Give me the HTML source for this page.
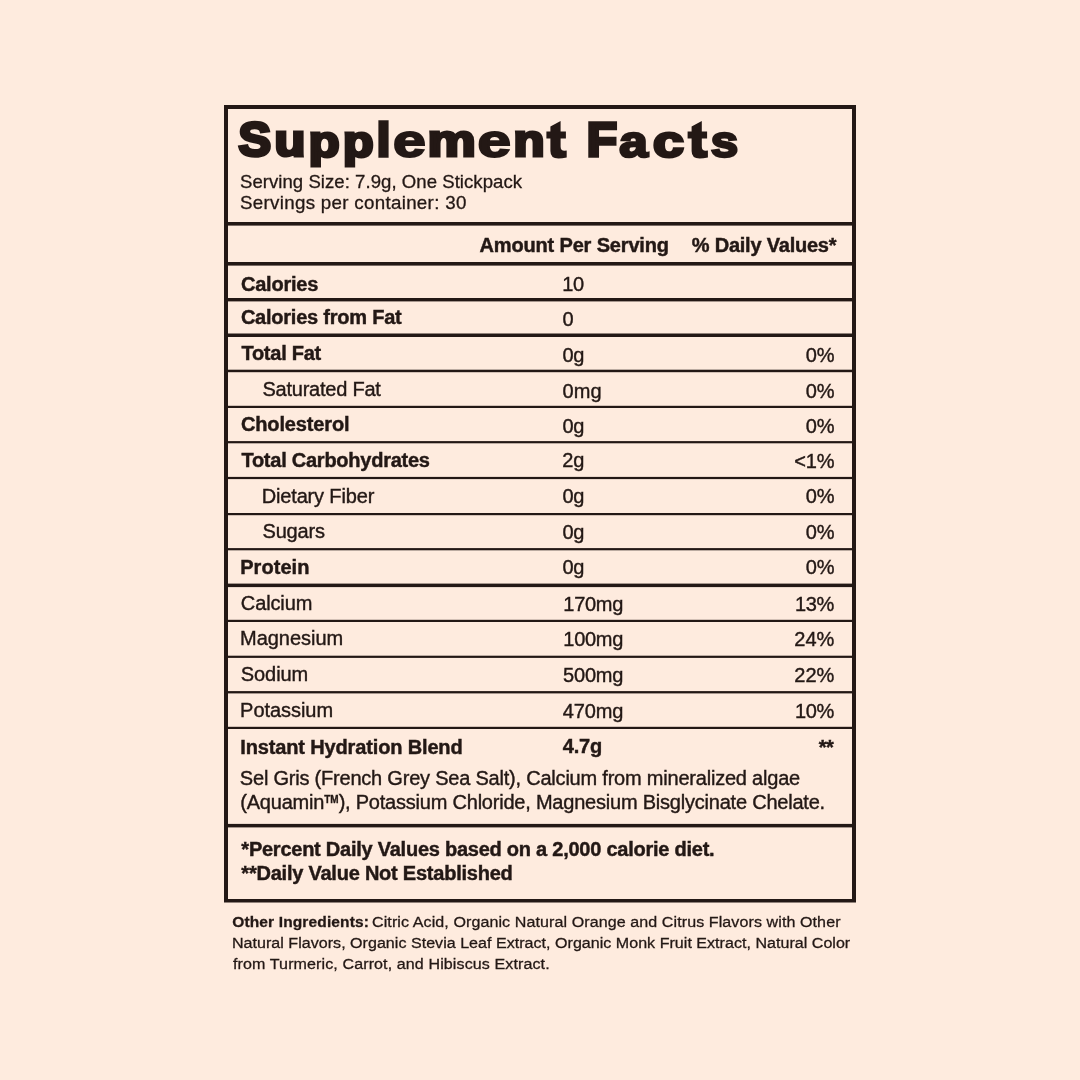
<!DOCTYPE html>
<html>
<head>
<meta charset="utf-8">
<title>Supplement Facts</title>
<style>
  html, body { margin: 0; padding: 0; }
  body {
    width: 1080px; height: 1080px; overflow: hidden;
    background: #feebde;
    font-family: "Liberation Sans", sans-serif;
    color: #231815;
    position: relative;
  }
  #wrap { position: absolute; left: 0; top: 0; width: 1080px; height: 1080px; will-change: transform; }
  .t { position: absolute; white-space: nowrap; line-height: 1; font-size: 20px; color: #231815; font-family: "Liberation Sans", sans-serif; }
  .b { font-weight: bold; }
  .tm { font-size: 10px; font-weight: bold; position: relative; top: -6.4px; letter-spacing: 0; -webkit-text-stroke: 0.3px #231815; }
</style>
</head>
<body>
<div id="wrap">
<svg width="1080" height="1080" style="position:absolute;left:0;top:0" fill="#231815">
<path fill-rule="evenodd" d="M224 104.9H856V902.6H224Z M228 108.9V899H852V108.9Z"/>
<rect x="228" y="222" width="624" height="3.6"/>
<rect x="228" y="262" width="624" height="3.6"/>
<rect x="228" y="298" width="624" height="3.4"/>
<rect x="228" y="333.5" width="624" height="3.5"/>
<rect x="228" y="369.7" width="624" height="2.5"/>
<rect x="228" y="405.8" width="624" height="2.2"/>
<rect x="228" y="441.1" width="624" height="2.2"/>
<rect x="228" y="476.9" width="624" height="2.2"/>
<rect x="228" y="513" width="624" height="2.2"/>
<rect x="228" y="548.1" width="624" height="2.2"/>
<rect x="228" y="583.6" width="624" height="3.5"/>
<rect x="228" y="619.8" width="624" height="2.2"/>
<rect x="228" y="655.7" width="624" height="2.2"/>
<rect x="228" y="691.1" width="624" height="2.3"/>
<rect x="228" y="726.8" width="624" height="2.2"/>
<rect x="228" y="823.9" width="624" height="3.5"/>
</svg>
<svg width="520" height="64" style="position:absolute;left:230px;top:110px;overflow:visible" font-family="Liberation Sans, sans-serif" font-weight="bold" font-size="48.0" fill="#231815" stroke="#231815" stroke-linejoin="miter">
<text stroke-width="3.5" transform="matrix(1.0168 0 0 1.0053 8.56 46.14)">S</text>
<text stroke-width="3.5" transform="matrix(1.0505 0 0 0.9060 44.59 46.36)">u</text>
<text stroke-width="3.5" transform="matrix(1.0486 0 0 0.9274 78.69 46.70)">p</text>
<text stroke-width="3.5" transform="matrix(1.0414 0 0 0.9274 112.90 46.70)">p</text>
<text stroke-width="3.5" transform="matrix(1.0146 0 0 0.9542 146.78 46.13)">l</text>
<text stroke-width="2.0" transform="matrix(1.2280 0 0 0.9628 162.97 46.96)">e</text>
<text stroke-width="3.2" transform="matrix(1.1321 0 0 0.9172 197.50 46.42)">m</text>
<text stroke-width="2.0" transform="matrix(1.2520 0 0 0.9628 247.45 46.96)">e</text>
<text stroke-width="3.5" transform="matrix(1.0579 0 0 0.9094 283.38 46.21)">n</text>
<path stroke="none" transform="translate(-230.00 -110)" d="M550.4 126.6L560.6 121.0V131.6H565.9V138.5H560.6V146.5Q560.6 150.8 564.5 150.8L566.7 150.6V157.6Q562 158.6 558.5 158.6Q550.4 158.6 550.4 151V138.5H546.4V131.6H550.4Z"/>
<text stroke-width="3.5" transform="matrix(1.0342 0 0 1.0000 356.75 46.05)">F</text>
<text stroke-width="2.8" transform="matrix(1.0702 0 0 0.9379 389.20 46.76)">a</text>
<text stroke-width="3.2" transform="matrix(1.1551 0 0 0.9220 423.01 46.56)">c</text>
<path stroke="none" transform="translate(-88.80 -110)" d="M550.4 126.6L560.6 121.0V131.6H565.9V138.5H560.6V146.5Q560.6 150.8 564.5 150.8L566.7 150.6V157.6Q562 158.6 558.5 158.6Q550.4 158.6 550.4 151V138.5H546.4V131.6H550.4Z"/>
<text stroke-width="2.8" transform="matrix(1.0269 0 0 0.9379 480.80 46.76)">s</text>
</svg>
<div class="t" style="left:240.41px;top:174px;font-size:17.7px;-webkit-text-stroke:0.3px #231815;letter-spacing:0.036px;transform:scaleX(1.05);transform-origin:0 0;">Serving Size: 7.9g, One Stickpack</div>
<div class="t" style="left:240.41px;top:195px;font-size:17.7px;-webkit-text-stroke:0.3px #231815;letter-spacing:0.281px;transform:scaleX(1.06);transform-origin:0 0;">Servings per container: 30</div>
<div class="t b" style="left:479.55px;top:235px;font-size:20px;-webkit-text-stroke:0.45px #231815;letter-spacing:-0.165px;">Amount Per Serving</div>
<div class="t b" style="left:691.75px;top:235px;font-size:20px;-webkit-text-stroke:0.45px #231815;letter-spacing:-0.218px;">% Daily Values*</div>
<div class="t b" style="left:240.90px;top:274px;font-size:20px;-webkit-text-stroke:0.45px #231815;letter-spacing:-0.207px;">Calories</div>
<div class="t b" style="left:240.90px;top:307px;font-size:20px;-webkit-text-stroke:0.45px #231815;letter-spacing:-0.231px;">Calories from Fat</div>
<div class="t b" style="left:241.40px;top:343px;font-size:20px;-webkit-text-stroke:0.45px #231815;letter-spacing:-0.244px;">Total Fat</div>
<div class="t" style="left:262.45px;top:379px;font-size:20px;-webkit-text-stroke:0.4px #231815;letter-spacing:-0.233px;">Saturated Fat</div>
<div class="t b" style="left:240.90px;top:414px;font-size:20px;-webkit-text-stroke:0.45px #231815;letter-spacing:-0.125px;">Cholesterol</div>
<div class="t b" style="left:241.40px;top:450px;font-size:20px;-webkit-text-stroke:0.45px #231815;letter-spacing:-0.244px;">Total Carbohydrates</div>
<div class="t" style="left:261.70px;top:486px;font-size:20px;-webkit-text-stroke:0.4px #231815;letter-spacing:-0.154px;">Dietary Fiber</div>
<div class="t" style="left:262.45px;top:521px;font-size:20px;-webkit-text-stroke:0.4px #231815;letter-spacing:-0.140px;">Sugars</div>
<div class="t b" style="left:240.15px;top:557px;font-size:20px;-webkit-text-stroke:0.45px #231815;letter-spacing:0.067px;">Protein</div>
<div class="t" style="left:240.85px;top:593px;font-size:20px;-webkit-text-stroke:0.4px #231815;letter-spacing:-0.125px;">Calcium</div>
<div class="t" style="left:240.10px;top:628px;font-size:20px;-webkit-text-stroke:0.4px #231815;letter-spacing:-0.044px;">Magnesium</div>
<div class="t" style="left:240.85px;top:664px;font-size:20px;-webkit-text-stroke:0.4px #231815;letter-spacing:-0.100px;">Sodium</div>
<div class="t" style="left:240.10px;top:700px;font-size:20px;-webkit-text-stroke:0.4px #231815;letter-spacing:-0.044px;">Potassium</div>
<div class="t b" style="left:240.35px;top:737px;font-size:20px;-webkit-text-stroke:0.45px #231815;letter-spacing:-0.148px;">Instant Hydration Blend</div>
<div class="t" style="left:562.25px;top:274px;font-size:20px;-webkit-text-stroke:0.4px #231815;letter-spacing:-0.350px;">10</div>
<div class="t" style="left:562.50px;top:309px;font-size:20px;-webkit-text-stroke:0.4px #231815;letter-spacing:-0.200px;">0</div>
<div class="t" style="left:562.50px;top:345px;font-size:20px;-webkit-text-stroke:0.4px #231815;letter-spacing:-0.250px;">0g</div>
<div class="t" style="left:562.50px;top:381px;font-size:20px;-webkit-text-stroke:0.4px #231815;letter-spacing:0.100px;">0mg</div>
<div class="t" style="left:562.50px;top:416px;font-size:20px;-webkit-text-stroke:0.4px #231815;letter-spacing:-0.250px;">0g</div>
<div class="t" style="left:562.25px;top:450px;font-size:20px;-webkit-text-stroke:0.4px #231815;letter-spacing:0.000px;">2g</div>
<div class="t" style="left:562.50px;top:486px;font-size:20px;-webkit-text-stroke:0.4px #231815;letter-spacing:-0.250px;">0g</div>
<div class="t" style="left:562.50px;top:522px;font-size:20px;-webkit-text-stroke:0.4px #231815;letter-spacing:-0.250px;">0g</div>
<div class="t" style="left:562.50px;top:557px;font-size:20px;-webkit-text-stroke:0.4px #231815;letter-spacing:-0.250px;">0g</div>
<div class="t" style="left:563.30px;top:594px;font-size:20px;-webkit-text-stroke:0.4px #231815;letter-spacing:-0.288px;">170mg</div>
<div class="t" style="left:563.30px;top:629px;font-size:20px;-webkit-text-stroke:0.4px #231815;letter-spacing:-0.288px;">100mg</div>
<div class="t" style="left:563.00px;top:665px;font-size:20px;-webkit-text-stroke:0.4px #231815;letter-spacing:-0.175px;">500mg</div>
<div class="t" style="left:562.75px;top:701px;font-size:20px;-webkit-text-stroke:0.4px #231815;letter-spacing:-0.113px;">470mg</div>
<div class="t b" style="left:562.70px;top:736px;font-size:20px;-webkit-text-stroke:0.45px #231815;letter-spacing:-0.133px;">4.7g</div>
<div class="t" style="left:805.80px;top:345px;font-size:20px;-webkit-text-stroke:0.4px #231815;letter-spacing:-0.250px;">0%</div>
<div class="t" style="left:805.80px;top:381px;font-size:20px;-webkit-text-stroke:0.4px #231815;letter-spacing:-0.250px;">0%</div>
<div class="t" style="left:805.80px;top:416px;font-size:20px;-webkit-text-stroke:0.4px #231815;letter-spacing:-0.250px;">0%</div>
<div class="t" style="left:794.30px;top:451px;font-size:20px;-webkit-text-stroke:0.4px #231815;letter-spacing:-0.225px;">&lt;1%</div>
<div class="t" style="left:805.80px;top:486px;font-size:20px;-webkit-text-stroke:0.4px #231815;letter-spacing:-0.250px;">0%</div>
<div class="t" style="left:805.80px;top:522px;font-size:20px;-webkit-text-stroke:0.4px #231815;letter-spacing:-0.250px;">0%</div>
<div class="t" style="left:805.80px;top:557px;font-size:20px;-webkit-text-stroke:0.4px #231815;letter-spacing:-0.250px;">0%</div>
<div class="t" style="left:795.05px;top:594px;font-size:20px;-webkit-text-stroke:0.4px #231815;letter-spacing:-0.350px;">13%</div>
<div class="t" style="left:794.30px;top:629px;font-size:20px;-webkit-text-stroke:0.4px #231815;letter-spacing:-0.025px;">24%</div>
<div class="t" style="left:794.30px;top:665px;font-size:20px;-webkit-text-stroke:0.4px #231815;letter-spacing:-0.025px;">22%</div>
<div class="t" style="left:795.05px;top:701px;font-size:20px;-webkit-text-stroke:0.4px #231815;letter-spacing:-0.350px;">10%</div>
<div class="t b" style="left:818.70px;top:737px;font-size:20px;-webkit-text-stroke:0.45px #231815;letter-spacing:-0.350px;">**</div>
<div class="t" style="left:239.85px;top:768px;font-size:20px;-webkit-text-stroke:0.4px #231815;letter-spacing:-0.213px;">Sel Gris (French Grey Sea Salt), Calcium from mineralized algae</div>
<div class="t" style="left:240.30px;top:792px;font-size:20px;-webkit-text-stroke:0.4px #231815;letter-spacing:-0.217px;">(Aquamin<span class="tm">TM</span>), Potassium Chloride, Magnesium Bisglycinate Chelate.</div>
<div class="t b" style="left:241.35px;top:839px;font-size:20px;-webkit-text-stroke:0.45px #231815;letter-spacing:-0.245px;">*Percent Daily Values based on a 2,000 calorie diet.</div>
<div class="t b" style="left:241.35px;top:863px;font-size:20px;-webkit-text-stroke:0.45px #231815;letter-spacing:-0.229px;">**Daily Value Not Established</div>
<div class="t b" style="left:232.20px;top:914px;font-size:15.5px;-webkit-text-stroke:0.3px #231815;letter-spacing:0.141px;">Other Ingredients:</div>
<div class="t" style="left:372.32px;top:914px;font-size:15.5px;-webkit-text-stroke:0.3px #231815;letter-spacing:0.087px;transform:scaleX(1.035);transform-origin:0 0;">Citric Acid, Organic Natural Orange and Citrus Flavors with Other</div>
<div class="t" style="left:231.81px;top:935px;font-size:15.5px;-webkit-text-stroke:0.3px #231815;letter-spacing:0.024px;transform:scaleX(1.035);transform-origin:0 0;">Natural Flavors, Organic Stevia Leaf Extract, Organic Monk Fruit Extract, Natural Color</div>
<div class="t" style="left:232.70px;top:956px;font-size:15.5px;-webkit-text-stroke:0.3px #231815;letter-spacing:0.104px;transform:scaleX(1.035);transform-origin:0 0;">from Turmeric, Carrot, and Hibiscus Extract.</div>
</div>
</body>
</html>
